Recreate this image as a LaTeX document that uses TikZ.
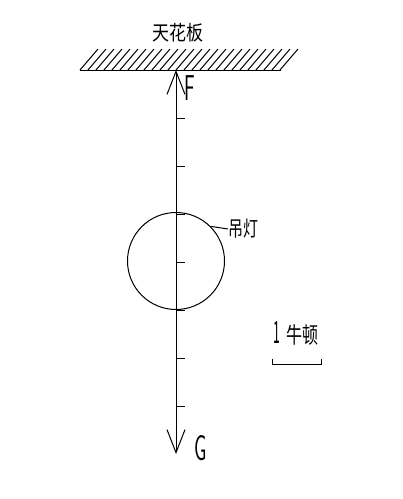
\documentclass[tikz,border=0pt]{standalone}
\usepackage{fontspec}
\usetikzlibrary{positioning,
        arrows.meta}
\newfontfamily\cjkfont{Noto Sans CJK SC}
\newcommand{\narrow}[1]{\scalebox{0.55}[1]{#1}}
\newcommand{\tall}[2][1.3]{\scalebox{1}[#1]{#2}}

\begin{document}
\begin{tikzpicture}[x=1pt,y=-1pt,line width=1pt,
            cjk/.style={font=\cjkfont\fontsize{#1}{#1}\selectfont,inner sep=0pt},
            force/.style={font=\sffamily\fontsize{36}{36}\selectfont,inner sep=0pt},
            barb/.tip={Straight Barb[length=23pt,width=18pt,line width=1pt]}]
            \useasboundingbox (0,0) rectangle (403,499);

            % ceiling
            \coordinate (wallL) at (80,70);
            \coordinate (wallR) at (281,70);
            \coordinate (top) at (176,70);
            \coordinate (bottom) at (176,454);
            \draw (wallL) -- (wallR);
            \foreach \x in {80,88,...,280}
                \draw (\x,70) -- ++(18,-21);
            \node [cjk=17] (ceiling) at (178,33) {\tall[1.2]{天花板}};

            % force line and ticks
            \draw [barb-barb] (top) -- (bottom);
            \foreach \k in {1,...,7}
                \draw (176,70+48*\k) -- ++(9,0);
            \node [force] (F) at (190,88) {\narrow{F}};
            \node [force] (G) at (201,448) {\narrow{G}};

            % lamp
            \node [circle,draw,minimum size=97pt,inner sep=0pt] (lamp) at (176,261) {};
            \node [cjk=15,anchor=west] (lampname) at (228,229) {\tall[1.4]{吊灯}};
            \draw (lamp.45) -- (lampname.west);

            % scale
            \node [cjk=16] (scale) at (296,333)
                {\tall[1.4]{\narrow{\fontsize{22}{22}\selectfont 1}\,\,牛顿}};
            \coordinate (barL) at (272,364);
            \coordinate (barR) at (321,364);
            \draw (barL) ++(0,-5) -- (barL) -- (barR) -- ++(0,-5);
        \end{tikzpicture}
\end{document}
